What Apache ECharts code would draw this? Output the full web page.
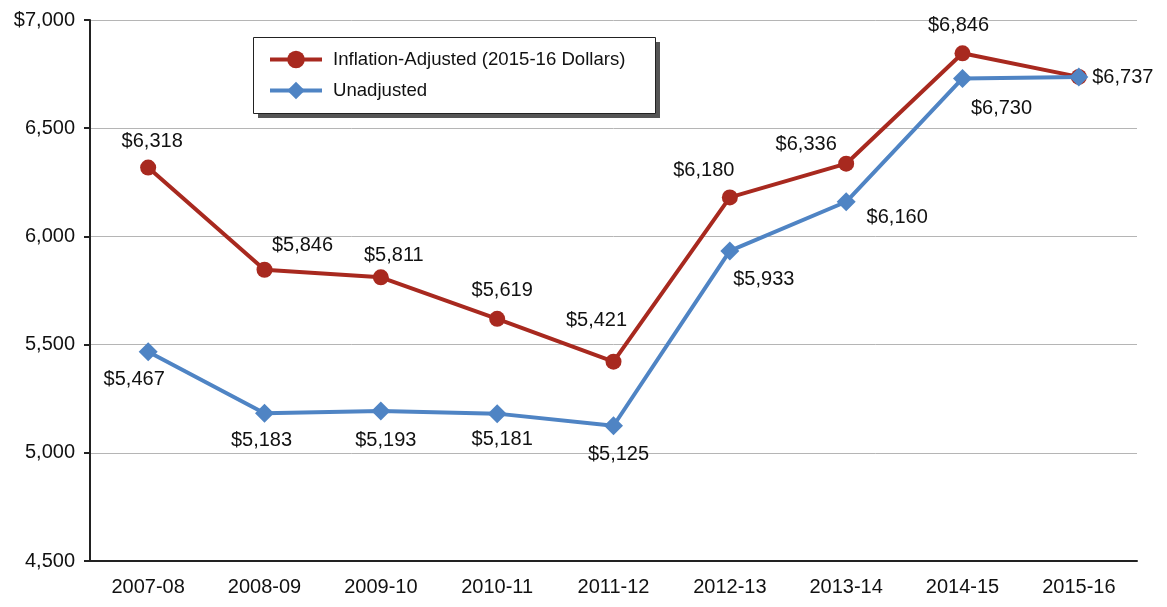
<!DOCTYPE html>
<html>
<head>
<meta charset="utf-8">
<script src="https://cdn.jsdelivr.net/npm/echarts@6/dist/echarts.min.js"></script>
<style>
  html, body { margin: 0; padding: 0; background: #fff; }
  #chart { width: 1167px; height: 607px; }
</style>
</head>
<body>
<div id="chart"></div>
<script>
// values
const years = ["2007-08", "2008-09", "2009-10", "2010-11", "2011-12", "2012-13", "2013-14", "2014-15", "2015-16"]
const adjusted = [6318, 5846, 5811, 5619, 5421, 6180, 6336, 6846, 6737]
const unadjusted = [5467, 5183, 5193, 5181, 5125, 5933, 6160, 6730, 6737]
const yTicks = [4500, 5000, 5500, 6000, 6500, 7000]

// label nudges (px, relative to the point) so labels sit like the original
const redNudge = [[4, -26], [38, -24], [13, -22], [5, -28], [-17, -41], [-26, -27], [-40, -19], [-4, -28], null]
const blueNudge = [[-14, 28], [-3, 27], [5, 29], [5, 26], [5, 29], [34, 29], [51, 16], [39, 30], [44, 1]]

const RED = "#a8291f"
const BLUE = "#4f84c4"
const FONT = "Liberation Sans, Arial, Helvetica, sans-serif"

const money = v => "$" + v.toLocaleString("en-US")

function points(values, nudge) {
  return values.map((v, i) => ({
    value: v,
    label: nudge[i]
      ? { show: true, position: "inside", offset: nudge[i] }
      : { show: false }
  }))
}

const chart = echarts.init(document.getElementById("chart"))
chart.setOption({
  animation: false,
  textStyle: { fontFamily: FONT },
  grid: { left: 90, right: 30, top: 20, bottom: 46 },
  // legend box + drop shadow drawn by hand, legend items sit on top
  graphic: [
    { type: "rect", z: 1, shape: { x: 258, y: 42, width: 402, height: 76 }, style: { fill: "#555" } },
    { type: "rect", z: 2, shape: { x: 253.5, y: 37.5, width: 402, height: 76 }, style: { fill: "#fff", stroke: "#222", lineWidth: 1 } }
  ],
  legend: {
    left: 268, top: 50,
    z: 10,
    orient: "vertical",
    padding: 0,
    itemGap: 12,
    itemWidth: 52, itemHeight: 22,
    lineStyle: { width: 4 },
    textStyle: { fontSize: 18.6, color: "#111", fontFamily: FONT, padding: [0, 0, 0, 6] },
    data: ["Inflation-Adjusted (2015-16 Dollars)", "Unadjusted"]
  },
  xAxis: {
    type: "category",
    data: years,
    boundaryGap: true,
    axisLine: { lineStyle: { color: "#222", width: 2 } },
    axisTick: { alignWithLabel: true, length: 9, lineStyle: { color: "#222", width: 2 } },
    axisLabel: { fontSize: 20, color: "#111", margin: 16, fontFamily: FONT }
  },
  yAxis: {
    type: "value",
    min: yTicks[0], max: yTicks[yTicks.length - 1], interval: 500,
    axisLine: { show: true, lineStyle: { color: "#222", width: 2 } },
    axisTick: { show: true, length: 6, lineStyle: { color: "#222", width: 2 } },
    splitLine: { lineStyle: { color: "#b5b5b5", width: 1 } },
    axisLabel: {
      fontSize: 20, color: "#111", margin: 15, fontFamily: FONT,
      formatter: v => v === 7000 ? money(v) : v.toLocaleString("en-US")
    }
  },
  series: [
    {
      name: "Inflation-Adjusted (2015-16 Dollars)",
      type: "line",
      data: points(adjusted, redNudge),
      symbol: "circle", symbolSize: 16,
      lineStyle: { color: RED, width: 4 },
      itemStyle: { color: RED },
      label: { fontSize: 20, color: "#111", fontFamily: FONT, formatter: p => money(p.value) },
      z: 2
    },
    {
      name: "Unadjusted",
      type: "line",
      data: points(unadjusted, blueNudge),
      symbol: "diamond", symbolSize: 19,
      lineStyle: { color: BLUE, width: 4 },
      itemStyle: { color: BLUE },
      label: { fontSize: 20, color: "#111", fontFamily: FONT, formatter: p => money(p.value) },
      z: 3
    }
  ]
})
</script>
</body>
</html>
